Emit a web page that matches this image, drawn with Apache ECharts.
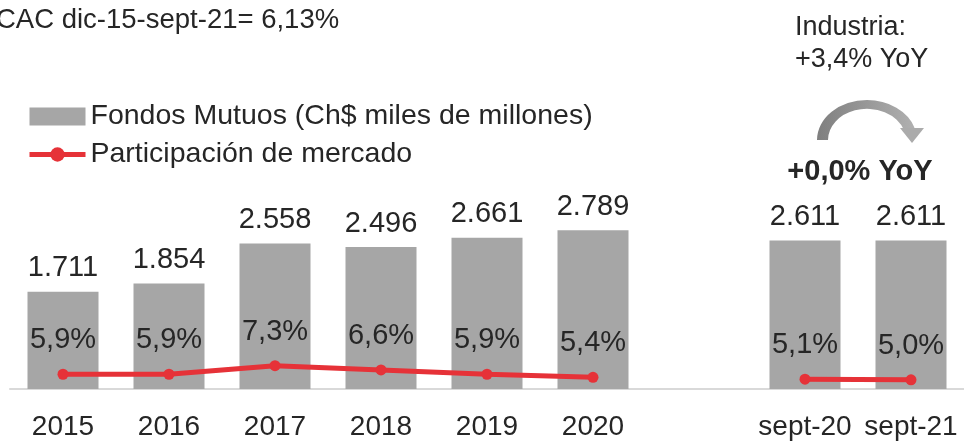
<!DOCTYPE html>
<html>
<head>
<meta charset="utf-8">
<script src="https://cdn.jsdelivr.net/npm/echarts@6/dist/echarts.min.js"></script>
<style>
  html, body { margin: 0; padding: 0; background: #fff; }
  #chart { width: 964px; height: 444px; }
</style>
</head>
<body>
<div id="chart"></div>
<script>
// datos
const categories = ['2015', '2016', '2017', '2018', '2019', '2020', '', 'sept-20', 'sept-21'];
const fondos = [1711, 1854, 2558, 2496, 2661, 2789, null, 2611, 2611];
const participacion = [5.9, 5.9, 7.3, 6.6, 5.9, 5.4, null, 5.1, 5.0];

const FONT = '"Liberation Sans", Arial, sans-serif';
const TXT = '#262626';
const RED = '#E63238';
const GRAY = '#A6A6A6';

const fmtMiles = (v) => Math.floor(v / 1000) + '.' + String(v % 1000).padStart(3, '0');
const fmtPct = (v) => v.toFixed(1).replace('.', ',') + '%';

const myChart = echarts.init(document.getElementById('chart'));

const option = {
    animation: false,
    textStyle: { fontFamily: FONT },
    grid: { left: 10, top: 42, width: 956, bottom: 55 },
    legend: {
        orient: 'vertical',
        left: 22,
        top: 97,
        itemWidth: 56,
        itemHeight: 18,
        itemGap: 9,
        textStyle: { fontSize: 28.5, color: TXT, fontFamily: FONT },
        data: [
            { name: 'Fondos Mutuos (Ch$ miles de millones)', icon: 'rect' },
            {
                name: 'Participación de mercado',
                lineStyle: { width: 5, color: RED },
                itemStyle: { color: RED }
            }
        ]
    },
    xAxis: {
        type: 'category',
        data: categories,
        axisTick: { show: false },
        axisLine: { lineStyle: { color: '#D9D9D9', width: 2 } },
        axisLabel: { color: TXT, fontSize: 28, margin: 24, interval: 0 }
    },
    yAxis: [
        { type: 'value', min: 0, max: 6100, show: false },
        { type: 'value', min: 3.5, max: 60, show: false }
    ],
    series: [
        {
            name: 'Fondos Mutuos (Ch$ miles de millones)',
            type: 'bar',
            data: fondos,
            barWidth: 71,
            itemStyle: { color: GRAY },
            label: {
                show: true,
                position: 'top',
                distance: 9,
                fontSize: 29,
                color: TXT,
                formatter: (p) => fmtMiles(p.value)
            }
        },
        {
            name: 'Participación de mercado',
            type: 'line',
            yAxisIndex: 1,
            data: participacion,
            symbol: 'circle',
            symbolSize: 11,
            itemStyle: { color: RED },
            lineStyle: { color: RED, width: 5 },
            label: {
                show: true,
                position: 'top',
                distance: 14,
                fontSize: 29,
                color: TXT,
                formatter: (p) => fmtPct(p.value)
            }
        }
    ],
    graphic: [
        {
            type: 'text',
            x: -4, y: 20,
            style: {
                text: 'CAC dic-15-sept-21= 6,13%', fontSize: 27.5, fill: TXT, fontFamily: FONT,
                verticalAlign: 'middle'
            }
        },
        {
            type: 'text',
            x: 795, y: 28,
            style: { text: 'Industria:', fontSize: 27, fill: TXT, fontFamily: FONT, verticalAlign: 'middle' }
        },
        {
            type: 'text',
            x: 795, y: 60,
            style: { text: '+3,4% YoY', fontSize: 27, fill: TXT, fontFamily: FONT, verticalAlign: 'middle' }
        },
        {
            type: 'sector',
            x: 867, y: 140,
            scaleY: 0.8,
            shape: { cx: 0, cy: 0, r: 50, r0: 39, startAngle: Math.PI, endAngle: Math.PI * 1.9, clockwise: true },
            style: {
                fill: new echarts.graphic.LinearGradient(0, 0, 1, 0, [
                    { offset: 0, color: '#7F7F7F' },
                    { offset: 1, color: '#B0B0B0' }
                ])
            }
        },
        {
            type: 'polygon',
            shape: { points: [[900, 128], [924, 128], [912, 143]] },
            style: { fill: '#ABABAB' }
        },
        {
            type: 'text',
            x: 860, y: 172,
            style: {
                text: '+0,0% YoY', fontSize: 29, fontWeight: 'bold', fill: TXT, fontFamily: FONT,
                align: 'center', verticalAlign: 'middle'
            }
        }
    ]
};

myChart.setOption(option);
</script>
</body>
</html>
